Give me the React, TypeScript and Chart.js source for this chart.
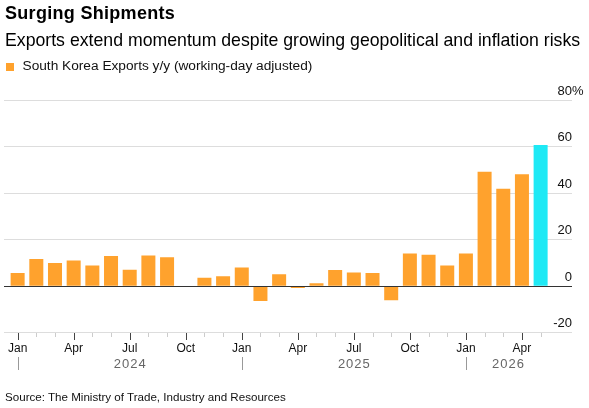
import React, { useEffect, useRef } from "react";
import { Chart, registerables } from "chart.js";

Chart.register(...registerables);

// ---- Data ----
const CATEGORIES = [
  "Jan 2024", "Feb 2024", "Mar 2024", "Apr 2024", "May 2024", "Jun 2024",
  "Jul 2024", "Aug 2024", "Sep 2024", "Oct 2024", "Nov 2024", "Dec 2024",
  "Jan 2025", "Feb 2025", "Mar 2025", "Apr 2025", "May 2025", "Jun 2025",
  "Jul 2025", "Aug 2025", "Sep 2025", "Oct 2025", "Nov 2025", "Dec 2025",
  "Jan 2026", "Feb 2026", "Mar 2026", "Apr 2026", "May 2026",
];
const EXPORTS_YOY = [
  5.7, 11.7, 9.9, 11.0, 8.9, 13.0, 7.0, 13.2, 12.4, -0.4, 3.6, 4.3,
  8.0, -6.4, 5.1, -0.8, 1.2, 6.9, 5.9, 5.7, -6.1, 14.0, 13.5, 8.9,
  14.0, 49.2, 41.9, 48.1, 60.7,
];
const Y_TICKS = [-20, 0, 20, 40, 60, 80];
const MAJOR_MONTHS = ["Jan", "Apr", "Jul", "Oct"];

const TITLE = "Surging Shipments";
const SUBTITLE = "Exports extend momentum despite growing geopolitical and inflation risks";
const SERIES_NAME = "South Korea Exports y/y (working-day adjusted)";
const SOURCE = "Source: The Ministry of Trade, Industry and Resources";

const ORANGE = "#ffa22d";
const CYAN = "#1ee9f5";
const FONT = '"Liberation Sans", Arial, Helvetica, sans-serif';

const axisPlugin = {
  id: "customAxes",
  afterDatasetsDraw(chart: any) {
    const { ctx, chartArea, scales } = chart;
    const x = scales.x;
    const y = scales.y;
    ctx.save();
    // zero line
    const y0 = Math.round(y.getPixelForValue(0)) + 0.5;
    ctx.strokeStyle = "#333333";
    ctx.lineWidth = 1;
    ctx.beginPath();
    ctx.moveTo(chartArea.left, y0);
    ctx.lineTo(chartArea.right, y0);
    ctx.stroke();

    // y labels
    ctx.font = `13px ${FONT}`;
    ctx.fillStyle = "#111111";
    ctx.textBaseline = "alphabetic";
    const maxTick = Math.max(...Y_TICKS);
    Y_TICKS.forEach((v) => {
      const py = y.getPixelForValue(v);
      ctx.textAlign = "right";
      ctx.fillText(String(v), chartArea.right, py - 5.5);
      if (v === maxTick) {
        ctx.textAlign = "left";
        ctx.fillText("%", chartArea.right, py - 5.5);
      }
    });

    // x ticks
    const bottom = Math.round(chartArea.bottom);
    CATEGORIES.forEach((c, i) => {
      const m = c.split(" ")[0];
      const major = MAJOR_MONTHS.includes(m);
      const px = Math.round(x.getPixelForValue(i)) + 0.5;
      ctx.strokeStyle = major ? "#444444" : "#cccccc";
      ctx.beginPath();
      ctx.moveTo(px, bottom);
      ctx.lineTo(px, bottom + (major ? 7 : 4));
      ctx.stroke();
      if (major) {
        ctx.font = `12px ${FONT}`;
        ctx.fillStyle = "#111111";
        ctx.textAlign = "center";
        ctx.fillText(m, x.getPixelForValue(i), 351.5);
      }
    });

    // years
    const groups: { year: string; first: number; count: number }[] = [];
    CATEGORIES.forEach((c, i) => {
      const yr = c.split(" ")[1];
      const g = groups[groups.length - 1];
      if (g && g.year === yr) g.count++;
      else groups.push({ year: yr, first: i, count: 1 });
    });
    groups.forEach((g) => {
      const px = Math.round(x.getPixelForValue(g.first)) + 0.5;
      ctx.strokeStyle = "#999999";
      ctx.beginPath();
      ctx.moveTo(px, 357);
      ctx.lineTo(px, 370);
      ctx.stroke();
      const center = g.count >= 12 ? g.first + 6 : (g.first + g.first + g.count - 1 + 0.5) / 2;
      ctx.font = `13px ${FONT}`;
      (ctx as any).letterSpacing = "1px";
      ctx.fillStyle = "#666666";
      ctx.textAlign = "center";
      ctx.fillText(g.year, x.getPixelForValue(center) + 0.5, 367.7);
      (ctx as any).letterSpacing = "0px";
    });
    ctx.restore();
  },
};

export default function App() {
  const ref = useRef<HTMLCanvasElement | null>(null);

  useEffect(() => {
    document.body.style.margin = "0";
    if (!ref.current) return;
    const chart = new Chart(ref.current, {
      type: "bar",
      data: {
        datasets: [
          {
            label: SERIES_NAME,
            data: EXPORTS_YOY.map((v, i) => ({ x: i, y: v })),
            backgroundColor: EXPORTS_YOY.map((_, i) => (i === EXPORTS_YOY.length - 1 ? CYAN : ORANGE)),
            borderWidth: 0,
            barPercentage: 0.75,
            categoryPercentage: 1,
          },
        ],
      },
      options: {
        animation: false,
        responsive: false,
        devicePixelRatio: 1,
        layout: { padding: { left: 4, right: 17, top: 100, bottom: 75.3 } },
        plugins: {
          legend: { display: false },
          title: { display: false },
          tooltip: { enabled: false },
        },
        scales: {
          x: {
            type: "linear",
            min: -0.73,
            max: 29.68,
            offset: false,
            display: false,
            grid: { offset: false },
          },
          y: {
            position: "right",
            min: -20,
            max: 80,
            afterBuildTicks: (scale: any) => {
              scale.ticks = Y_TICKS.map((v) => ({ value: v }));
            },
            ticks: { display: false },
            border: { display: false },
            grid: {
              drawTicks: false,
              lineWidth: 1,
              color: (c: any) => (c.tick && c.tick.value === 0 ? "rgba(0,0,0,0)" : "#dddddd"),
            },
          },
        },
      },
      plugins: [axisPlugin],
    } as any);
    return () => chart.destroy();
  }, []);

  const text = (extra: React.CSSProperties): React.CSSProperties => ({
    position: "absolute",
    left: 5,
    fontFamily: FONT,
    lineHeight: 1,
    whiteSpace: "nowrap",
    color: "#000",
    ...extra,
  });

  return (
    <div style={{ position: "relative", width: 589, height: 408, overflow: "hidden", background: "#fff" }}>
      <canvas ref={ref} width={589} height={408} style={{ position: "absolute", left: 0, top: 0, width: 589, height: 408 }} />
      <div style={text({ top: 4, fontSize: 18, fontWeight: 700, letterSpacing: "0.3px" })}>{TITLE}</div>
      <div style={text({ top: 32, fontSize: 17.7 })}>{SUBTITLE}</div>
      <div style={{ position: "absolute", left: 6, top: 63, width: 8, height: 8, background: ORANGE }} />
      <div style={text({ left: 22.5, top: 59.1, fontSize: 13.7, color: "#111" })}>{SERIES_NAME}</div>
      <div style={text({ top: 391.2, fontSize: 11.6, color: "#111" })}>{SOURCE}</div>
    </div>
  );
}
